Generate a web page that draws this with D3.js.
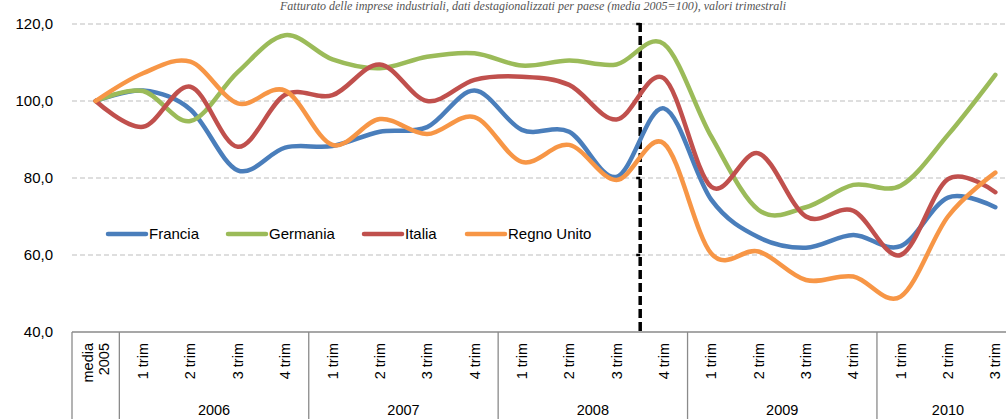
<!DOCTYPE html>
<html>
<head>
<meta charset="utf-8">
<script src="https://cdn.jsdelivr.net/npm/d3@7"></script>
<style>
  html, body { margin: 0; padding: 0; background: #fff; overflow: hidden; }
  svg { display: block; }
  text { font-family: Arial, "Liberation Sans", sans-serif; }
</style>
</head>
<body>
<svg id="chart" width="1006" height="419"></svg>
<script>
// Categories: media 2005, then quarters 2006 - 2010 (3 trim)
let quarterLabels = ["media 2005",
    "1 trim", "2 trim", "3 trim", "4 trim",
    "1 trim", "2 trim", "3 trim", "4 trim",
    "1 trim", "2 trim", "3 trim", "4 trim",
    "1 trim", "2 trim", "3 trim", "4 trim",
    "1 trim", "2 trim", "3 trim"];
let years = ["2006", "2007", "2008", "2009", "2010"];
let quartersPerYear = [4, 4, 4, 4, 3];

let francia = [100, 102.7, 97.8, 82.0, 87.9, 88.3, 92.0, 93.2, 102.7, 92.5,
    92.0, 80.3, 98.1, 74.4, 64.6, 61.9, 65.2, 62.3, 74.9, 72.4];
let germania = [100, 102.6, 94.8, 107.5, 117.1, 110.8, 108.5, 111.5, 112.4, 109.2,
    110.5, 109.5, 114.8, 90.8, 71.7, 72.4, 78.2, 78.0, 91.2, 106.8];
let italia = [100, 93.3, 103.7, 88.1, 101.6, 101.5, 109.5, 100.0, 105.5, 106.3,
    104.2, 95.2, 105.9, 77.7, 86.4, 70.0, 71.5, 60.0, 79.7, 76.3];
let regnoUnito = [100, 107.2, 110.2, 99.4, 102.7, 88.6, 95.3, 91.4, 95.8, 84.2,
    88.6, 79.5, 89.0, 60.4, 60.9, 53.5, 54.4, 49.2, 70.0, 81.4];

let seriesNames = ["Francia", "Germania", "Italia", "Regno Unito"];
let seriesColors = ["#4a7ebb", "#9bbb59", "#c0504d", "#f79646"];
let seriesValues = [francia, germania, italia, regnoUnito];

let yTicks = [40, 60, 80, 100, 120];

let svg = d3.select("#chart");

let x = d3.scaleBand()
    .domain(d3.range(quarterLabels.length))
    .range([72, 72 + 20 * 47.35])
    .padding(0);
let y = d3.scaleLinear().domain([40, 120]).range([332, 24]);
let cx = i => x(i) + x.bandwidth() / 2;

// Title
svg.append("text")
    .attr("x", 533)
    .attr("y", 10)
    .attr("text-anchor", "middle")
    .style("font-family", "'Liberation Serif', 'Times New Roman', serif")
    .style("font-style", "italic")
    .style("font-size", "12px")
    .attr("fill", "#555")
    .text("Fatturato delle imprese industriali, dati destagionalizzati per paese (media 2005=100), valori trimestrali");

// Gridlines
svg.append("g")
    .selectAll("line")
    .data(yTicks.filter(d => d > 40))
    .enter()
    .append("line")
    .attr("x1", 72)
    .attr("x2", 1006)
    .attr("y1", d => y(d))
    .attr("y2", d => y(d))
    .attr("stroke", "#d4d4d4")
    .attr("stroke-width", 1.5)
    .attr("stroke-dasharray", "5,3");

// Y axis labels
let yAxis = d3.axisLeft(y)
    .tickValues(yTicks)
    .tickSize(0)
    .tickPadding(0)
    .tickFormat(d => d3.format(".1f")(d).replace(".", ","));
let yg = svg.append("g")
    .attr("transform", "translate(53,0)")
    .call(yAxis);
yg.select(".domain").remove();
yg.selectAll("text")
    .style("font-size", "15px")
    .style("font-family", "Arial, 'Liberation Sans', sans-serif")
    .attr("fill", "#000");

// Category axis box
let axisColor = "#8a8a8a";
svg.append("line")
    .attr("x1", 72).attr("x2", 1006)
    .attr("y1", 332).attr("y2", 332)
    .attr("stroke", axisColor)
    .attr("stroke-width", 1.3);

let boundaries = [0, 1];
let acc = 1;
quartersPerYear.forEach(n => { acc += n; boundaries.push(acc); });
svg.append("g")
    .selectAll("line")
    .data(boundaries.filter(b => b < quarterLabels.length))
    .enter()
    .append("line")
    .attr("x1", d => x(d))
    .attr("x2", d => x(d))
    .attr("y1", 332)
    .attr("y2", 419)
    .attr("stroke", axisColor)
    .attr("stroke-width", 1.3);

// Quarter labels (rotated)
let catG = svg.append("g");
quarterLabels.forEach((label, i) => {
    if (i === 0) {
        let parts = label.split(" ");
        parts.forEach((p, k) => {
            catG.append("text")
                .attr("transform", `translate(${cx(i) - 8 + k * 16},343) rotate(-90)`)
                .attr("text-anchor", "end")
                .attr("dy", "0.35em")
                .style("font-size", "14.5px")
                .text(p);
        });
    } else {
        catG.append("text")
            .attr("transform", `translate(${cx(i)},343) rotate(-90)`)
            .attr("text-anchor", "end")
            .attr("dy", "0.35em")
            .style("font-size", "14.5px")
            .text(label);
    }
});

// Year labels
years.forEach((yr, k) => {
    let start = boundaries[k + 1];
    let end = boundaries[k + 2];
    svg.append("text")
        .attr("x", (x(start) + x(end - 1) + x.bandwidth()) / 2)
        .attr("y", 415)
        .attr("text-anchor", "middle")
        .style("font-size", "14.5px")
        .text(yr);
});

// Dashed separator between 3 trim and 4 trim 2008
let sepX = x(12);
svg.append("line")
    .attr("x1", sepX).attr("x2", sepX)
    .attr("y1", y(120) - 1).attr("y2", y(40))
    .attr("stroke", "#000")
    .attr("stroke-width", 3.5)
    .attr("stroke-dasharray", "9,4");
[120, 80, 60].forEach(v => {
    svg.append("line")
        .attr("x1", sepX - 4).attr("x2", sepX)
        .attr("y1", y(v)).attr("y2", y(v))
        .attr("stroke", "#000")
        .attr("stroke-width", 2.5);
});

// Series lines
let line = d3.line()
    .x((d, i) => cx(i))
    .y(d => y(d))
    .curve(d3.curveCardinal.tension(0));

svg.append("g")
    .selectAll("path")
    .data(seriesValues)
    .enter()
    .append("path")
    .attr("d", d => line(d))
    .attr("fill", "none")
    .attr("stroke", (d, i) => seriesColors[i])
    .attr("stroke-width", 4.5)
    .attr("stroke-linecap", "round")
    .attr("stroke-linejoin", "round");

// Legend
let legendX = [108, 228, 364, 467];
let legend = svg.append("g");
seriesNames.forEach((name, i) => {
    legend.append("line")
        .attr("x1", legendX[i]).attr("x2", legendX[i] + 38)
        .attr("y1", 234).attr("y2", 234)
        .attr("stroke", seriesColors[i])
        .attr("stroke-width", 4.5)
        .attr("stroke-linecap", "round");
    legend.append("text")
        .attr("x", legendX[i] + 41)
        .attr("y", 234)
        .attr("dy", "0.35em")
        .style("font-size", "15px")
        .text(name);
});
</script>
</body>
</html>
